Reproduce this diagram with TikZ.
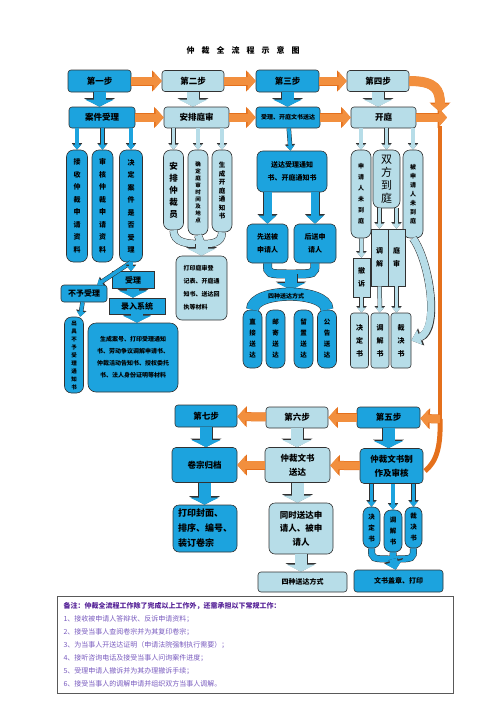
\documentclass[tikz,border=0pt]{standalone}
\usepackage{fontspec}
\setmainfont{Noto Sans CJK SC}
\usepackage{tikz}
\usetikzlibrary{arrows.meta,positioning}
\definecolor{stepDark}{RGB}{28,163,222}
\definecolor{stepLight}{RGB}{183,221,232}
\definecolor{flowOrange}{RGB}{242,143,62}
\definecolor{railOrange}{RGB}{228,112,28}
\definecolor{lineGray}{RGB}{50,50,50}
\definecolor{notePurple}{RGB}{84,32,150}
\definecolor{noteLilac}{RGB}{120,90,190}

\ExplSyntaxOn
\NewDocumentCommand{\vtext}{m}
  {
    \seq_clear:N \l_tmpa_seq
    \tl_map_inline:nn {#1} { \seq_put_right:Nn \l_tmpa_seq {##1} }
    \seq_use:Nn \l_tmpa_seq { \\ }
  }
\ExplSyntaxOff
\newcommand{\fsz}[2]{\fontsize{#1}{#2}\selectfont\bfseries}

\begin{document}
\begin{tikzpicture}[x=1pt, y=-1pt,
  darkbox/.style={draw=lineGray, line width=0.6pt, fill=stepDark, rounded corners=3pt, align=center, inner sep=1pt, font=\fsz{8.5}{14}},
  lightbox/.style={darkbox, fill=stepLight},
  sz/.style 2 args={minimum width=#1pt, minimum height=#2pt},
  darkpill/.style={draw=lineGray, line width=0.6pt, fill=stepDark, rounded corners=7pt, align=center, inner sep=0pt, font=\fsz{7}{12.5}},
  lightpill/.style={darkpill, fill=stepLight},
  bigarrow/.style={line width=12pt, -{Triangle[width=28pt,length=7pt]},
    preaction={draw=lineGray, line width=13pt, -{Triangle[width=30.5pt,length=8.5pt]}}},
  midarrow/.style={line width=8pt, -{Triangle[width=17pt,length=8pt]},
    preaction={draw=lineGray, line width=9pt, -{Triangle[width=19.5pt,length=9.5pt]}}},
  smallarrow/.style={line width=3.5pt, -{Triangle[width=8pt,length=5pt]},
    preaction={draw=lineGray, line width=4.5pt, -{Triangle[width=10pt,length=6.5pt]}}},
  curvearrow/.style={line width=7pt, -{Triangle[width=15pt,length=9pt]},
    preaction={draw=lineGray, line width=8pt, -{Triangle[width=17.5pt,length=10.5pt]}}},
  orangearrow/.style={flowOrange, line width=8pt, -{Triangle[width=18pt,length=8pt]},
    preaction={draw=railOrange, line width=9pt, -{Triangle[width=20.5pt,length=9.5pt]}}},
  band/.style={draw=lineGray, line width=0.5pt, double distance=#1},
  band/.default=7pt
]
\useasboundingbox (0,0) rectangle (496,702);

\node[font=\fsz{8}{10}] (title) at (243,50) {仲\hspace{7pt}裁\hspace{7pt}全\hspace{7pt}流\hspace{7pt}程\hspace{7pt}示\hspace{7pt}意\hspace{7pt}图};

% steps one to four
\node[darkbox, sz={63}{22}] (step1) at (99.5,81) {第一步};
\node[lightbox, sz={62}{21}] (step2) at (193,81) {第二步};
\node[darkbox, sz={63}{22}] (step3) at (287.5,81) {第三步};
\node[lightbox, sz={62}{21}] (step4) at (378,81) {第四步};
\node[darkbox, sz={66}{21}] (case) at (102,117.5) {案件受理};
\node[lightbox, sz={65}{21}] (arrange) at (196.5,117.5) {安排庭审};
\node[darkbox, sz={64}{21}, font=\fsz{6}{8}] (serve1) at (288,117.5) {受理、开庭文书送达};
\node[lightbox, sz={65}{21}] (hearing) at (383.5,117.5) {开庭};

\node[darkpill, sz={21}{112}] (c11) at (77,206) {\vtext{接收仲裁申请资料}};
\node[darkpill, sz={21}{112}] (c12) at (102.5,206) {\vtext{审核仲裁申请资料}};
\node[darkpill, sz={23}{112}] (c13) at (131,206) {\vtext{决定案件是否受理}};
\node[darkbox, sz={46}{17}, font=\fsz{8}{10}] (reject) at (84,293.5) {不予受理};
\node[darkbox, sharp corners, sz={42}{17}, font=\fsz{8}{10}] (accept) at (133,280) {受理};
\node[darkbox, sharp corners, sz={56}{16}, font=\fsz{8}{10}] (entry) at (137,306) {录入系统};
\node[darkpill, sz={19}{76}, font=\fsz{5.5}{8}] (notice) at (74,355) {\vtext{出具不予受理通知书}};
\node[darkbox, rounded corners=8pt, sz={90}{69}, font=\fsz{6}{12}] (docs) at (133,357.5) {生成案号、打印受理通知\\书、劳动争议调解申请书、\\仲裁活动告知书、授权委托\\书、法人身份证明等材料};

\node[lightpill, sz={20}{80}, font=\fsz{8.5}{12}] (c21) at (173.5,190) {\vtext{安排仲裁员}};
\node[lightpill, sz={20}{85}, font=\fsz{5.5}{7}] (c22) at (198,192.5) {\vtext{确定庭审时间及地点}};
\node[lightpill, sz={20}{82}, font=\fsz{6.5}{8.5}] (c23) at (222,191) {\vtext{生成开庭通知书}};
\node[lightbox, rounded corners=6pt, sz={51}{64}, font=\fsz{6}{13}, align=left] (print2) at (201.5,288) {打印庭审登\\记表、开庭通\\知书、送达回\\执等材料};

\node[darkbox, rounded corners=6pt, sz={70}{41}, font=\fsz{7}{13}] (notify) at (292,171.5) {送达受理通知\\书、开庭通知书};
\node[darkbox, rounded corners=5pt, sz={41}{39}, font=\fsz{7}{13}] (first) at (267.5,243.5) {先送被\\申请人};
\node[darkbox, rounded corners=5pt, sz={42}{39}, font=\fsz{7}{13}] (second) at (315,243.5) {后送申\\请人};
\node[darkpill, sz={19}{58}, font=\fsz{6.5}{11}] (d1) at (252.5,339) {\vtext{直接送达}};
\node[darkpill, sz={19}{58}, font=\fsz{6.5}{11}] (d2) at (275.5,339) {\vtext{邮寄送达}};
\node[darkpill, sz={19}{58}, font=\fsz{6.5}{11}] (d3) at (303.5,339) {\vtext{留置送达}};
\node[darkpill, sz={19}{58}, font=\fsz{6.5}{11}] (d4) at (327,339) {\vtext{公告送达}};

\node[lightpill, sz={20}{88}, font=\fsz{6}{11}] (a1) at (361,194) {\vtext{申请人未到庭}};
\node[lightpill, sz={27}{58}, font=\fontsize{11}{13}\selectfont] (a2) at (386.5,179) {\vtext{双方到庭}};
\node[lightpill, sz={20}{88}, font=\fsz{6}{9}] (a3) at (413,194) {\vtext{被申请人未到庭}};
\node[lightbox, sharp corners, sz={17}{57}, font=\fsz{7}{13}] (mediate) at (379.5,257.5) {\vtext{调解}};
\node[lightbox, sharp corners, sz={17}{57}, font=\fsz{7}{13}] (trial) at (396.5,257.5) {\vtext{庭审}};
\node[lightbox, sharp corners, sz={17}{39}, font=\fsz{7}{13}] (withdraw) at (361.5,277.5) {\vtext{撤诉}};
\node[lightbox, sz={18}{55}, font=\fsz{7}{13}] (r1) at (359.5,340.5) {\vtext{决定书}};
\node[lightbox, sz={18}{55}, font=\fsz{7}{13}] (r2) at (380,340.5) {\vtext{调解书}};
\node[lightbox, sz={20}{55}, font=\fsz{7}{13}] (r3) at (401,340.5) {\vtext{裁决书}};

% steps five to seven
\node[darkbox, sz={62}{22}] (step7) at (206,416) {第七步};
\node[lightbox, sz={62}{21}] (step6) at (297,417.5) {第六步};
\node[darkbox, sz={63}{21}] (step5) at (388.5,417.5) {第五步};
\node[darkbox, rounded corners=4pt, sz={65}{35}] (archive) at (204.5,465) {卷宗归档};
\node[lightbox, rounded corners=4pt, sz={65}{35}] (serve) at (297.5,465) {仲裁文书\\送达};
\node[darkbox, rounded corners=4pt, sz={63}{35}] (draft) at (391.5,466) {仲裁文书制\\作及审核};
\node[darkbox, rounded corners=6pt, sz={64}{47}, font=\fsz{9}{15}, align=left] (bind) at (205,528.5) {打印封面、\\排序、编号、\\装订卷宗};
\node[lightbox, rounded corners=6pt, sz={64}{51}, font=\fsz{8.5}{13.5}] (both) at (301,528.5) {同时送达申\\请人、被申\\请人};
\node[lightbox, sz={89}{20}, font=\fsz{7}{9}] (ways2) at (302.5,582) {四种送达方式};
\node[darkpill, sz={17}{41}, font=\fsz{6.5}{11}] (b1) at (371.5,527.5) {\vtext{决定书}};
\node[darkpill, sz={18}{42}, font=\fsz{6.5}{11}] (b2) at (393,531) {\vtext{调解书}};
\node[darkpill, sz={17}{41}, font=\fsz{6.5}{11}] (b3) at (413.5,527.5) {\vtext{裁决书}};
\node[darkbox, sz={89}{22}, font=\fsz{7}{9}] (stamp) at (398.5,581) {文书盖章、打印};

\node[draw=black!65, line width=1.2pt, sz={396}{94}, anchor=north west, text width=384pt, align=left, inner sep=6pt, font=\fontsize{7}{13}\selectfont] (notes) at (57,596)
  {\textcolor{notePurple}{\bfseries 备注：仲裁全流程工作除了完成以上工作外，还需承担以下常规工作：}\\
   \textcolor{noteLilac}{1、接收被申请人答辩状、反诉申请资料；}\\
   \textcolor{noteLilac}{2、接受当事人查阅卷宗并为其复印卷宗；}\\
   \textcolor{noteLilac}{3、为当事人开送达证明（申请法院强制执行需要）；}\\
   \textcolor{noteLilac}{4、接听咨询电话及接受当事人问询案件进度；}\\
   \textcolor{noteLilac}{5、受理申请人撤诉并为其办理撤诉手续；}\\
   \textcolor{noteLilac}{6、接受当事人的调解申请并组织双方当事人调解。}};

\coordinate (raildrop) at (440,112);
\coordinate (railin) at (447,117.5);
\coordinate (railtop) at (440,126);
\coordinate (railbend) at (440,419);
\coordinate (fork2) at (201.5,244);
\coordinate (fork3) at (291,274);
\coordinate (archtop) at (291,290);
\coordinate (fork5) at (393,559);

% orange flow
\draw[orangearrow] (step1) -- (step2);
\draw[orangearrow] (step2) -- (step3);
\draw[orangearrow] (step3) -- (step4);
\draw[orangearrow] (case) -- (arrange);
\draw[orangearrow] (arrange) -- (serve1);
\draw[orangearrow] (serve1) -- (hearing);
\draw[orangearrow] (hearing) -- (railin);
\draw[orangearrow, line width=10pt] (step4.east) .. controls (436,81) and (440,90) .. (raildrop);
\draw[railOrange, line width=4pt] (railtop) -- (railbend);
\draw[railOrange, line width=5pt] (railbend) .. controls (441,448) and (436,462) .. (425,471);
\draw[orangearrow] (railbend) -- (step5);
\draw[orangearrow] (step5) -- (step6);
\draw[orangearrow] (step6) -- (step7);
\draw[orangearrow] (draft) -- (serve);
\draw[orangearrow] (serve) -- (archive);

% steps down to their tasks
\draw[bigarrow, stepDark] (step1.south) -- (step1.south |- case.north);
\draw[bigarrow, stepLight] (step2.south) -- (step2.south |- arrange.north);
\draw[bigarrow, stepDark] (step3.south) -- (step3.south |- serve1.north);
\draw[bigarrow, stepLight] (step4.south) -- (step4.south |- hearing.north);
\draw[bigarrow, stepDark] (step7.south) -- (step7.south |- archive.north);
\draw[bigarrow, stepDark] (archive.south) -- (archive.south |- bind.north);
\draw[bigarrow, stepLight] (step6.south) -- (step6.south |- serve.north);
\draw[bigarrow, stepLight] (serve.south) -- (serve.south |- both.north);
\draw[bigarrow, stepLight] (both.south) -- (both.south |- ways2.north);
\draw[bigarrow, stepDark] (step5.south) -- (step5.south |- draft.north);

\foreach \p in {c11,c12,c13}
  \draw[smallarrow, stepDark] (case.south -| \p) -- (\p);
\draw[smallarrow, stepDark] (c13.south) -- (reject);
\draw[smallarrow, stepDark] (c13.south) -- (c13.south |- accept.north);
\draw[bigarrow, stepDark] (accept.south) -- (accept.south |- entry.north);
\draw[bigarrow, stepDark] (entry.south) -- (entry.south |- docs.north);
\draw[smallarrow, stepDark] (reject) -- (notice);

\foreach \p in {c21,c22,c23}
  \draw[smallarrow, stepLight] (arrange.south -| \p) -- (\p);
\draw[band, double=stepLight] (c21.south) .. controls (173.5,243) and (188,244) .. (fork2)
  (c23.south) .. controls (222,243) and (212,244) .. (fork2)
  (c22.south) -- (fork2);
\draw[bigarrow, stepLight] (fork2) -- (print2);

\draw[smallarrow, stepDark] (serve1) -- (notify);
\draw[midarrow, stepDark] (notify.south -| first) -- (first);
\draw[midarrow, stepDark] (notify.south -| second) -- (second);
\draw[band=8pt, double=stepDark] (first.south) .. controls (267.5,274) .. (fork3)
  (second.south) .. controls (315,274) .. (fork3);
\draw[bigarrow, stepDark] (fork3) -- (archtop);
\draw[band=12pt, double=stepDark] (d1.north) .. controls (252.5,289) and (327,289) .. (d4.north);
\node[font=\fsz{6}{7}, inner sep=0pt] (ways) at (286,296) {四种送达方式};

\foreach \p in {a1,a2,a3}
  \draw[smallarrow, stepLight] (hearing.south -| \p) -- (\p);
\draw[smallarrow, stepLight] (a1) -- (withdraw);
\draw[smallarrow, stepLight] (a2.south -| mediate) -- (mediate);
\draw[smallarrow, stepLight] (a2.south -| trial) -- (trial);
\draw[smallarrow, stepLight] (withdraw.south) -- (withdraw.south |- r1.north);
\draw[smallarrow, stepLight] (mediate) -- (r2);
\draw[smallarrow, stepLight] (trial.south) -- (trial.south |- r3.north);
\draw[curvearrow, stepLight] (a3.south) .. controls (430,262) and (440,330) .. (r3.east);

\foreach \p in {b1,b2,b3}
  \draw[smallarrow, stepDark] (draft.south -| \p) -- (\p);
\draw[band=6pt, double=stepDark] (b1.south) .. controls (371.5,559) .. (fork5)
  (b3.south) .. controls (413.5,559) .. (fork5)
  (b2.south) -- (fork5);
\draw[midarrow, stepDark] (fork5) -- (stamp);
\end{tikzpicture}
\end{document}
